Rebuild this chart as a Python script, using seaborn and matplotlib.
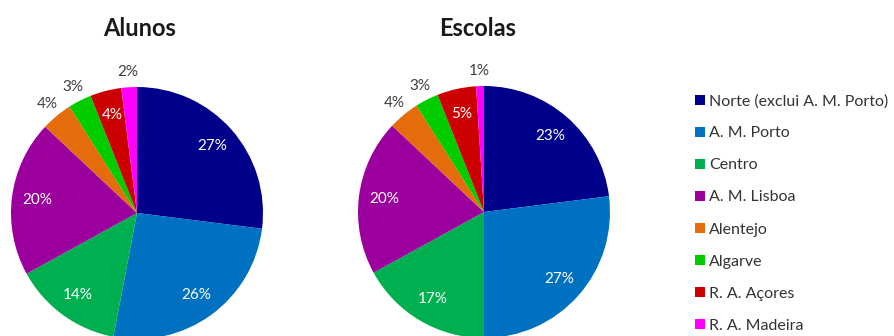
import numpy as np
import matplotlib
matplotlib.use("Agg")
import matplotlib.pyplot as plt
import seaborn as sns
from matplotlib.patches import Patch

categories = ["Norte (exclui A. M. Porto)", "A. M. Porto", "Centro", "A. M. Lisboa",
              "Alentejo", "Algarve", "R. A. Açores", "R. A. Madeira"]
alunos = [27, 26, 14, 20, 4, 3, 4, 2]
escolas = [23, 27, 17, 20, 4, 3, 5, 1]
titles = ["Alunos", "Escolas"]
colors = ["#00008B", "#0070C0", "#00B050", "#9B009F",
          "#E46C0A", "#00CC00", "#CC0000", "#FF00FF"]
outside_alunos = [False, False, False, False, True, True, False, True]
outside_escolas = [False, False, False, False, True, True, False, True]

sns.set_theme(style="white")
plt.rcParams['font.family'] = ['Lato', 'DejaVu Sans']
palette = sns.color_palette(colors)

W, H = 895, 336
fig = plt.figure(figsize=(W / 100, H / 100), dpi=100)
fig.patch.set_facecolor("white")

R = 126  # pixels
lim = 1.25

def make_axes(cx, cy):
    half = R * lim
    ax = fig.add_axes([(cx - half) / W, (H - cy - half) / H, 2 * half / W, 2 * half / H])
    ax.set_xlim(-lim, lim)
    ax.set_ylim(-lim, lim)
    ax.axis("off")
    ax.patch.set_alpha(0)
    return ax

for (cx, cy), vals, outside, title, tx in [((137, 213), alunos, outside_alunos, titles[0], 140),
                                             ((484, 212), escolas, outside_escolas, titles[1], 478)]:
    ax = make_axes(cx, cy)
    wedges, _ = ax.pie(vals, colors=palette, startangle=90, counterclock=False,
                       wedgeprops=dict(linewidth=0), radius=1.0, frame=False)
    ax.set_xlim(-lim, lim)
    ax.set_ylim(-lim, lim)
    ax.set_aspect("auto")
    for w, v, out in zip(wedges, vals, outside):
        w.set_clip_on(False)
        ang = np.deg2rad((w.theta1 + w.theta2) / 2)
        d = 1.12 if out else 0.8
        ax.text(d * np.cos(ang), d * np.sin(ang), f"{v}%", ha="center", va="center",
                fontsize=11, color="#404040" if out else "white", clip_on=False)
    fig.text(tx / W, 1 - 28 / H, title, ha="center", va="center",
             fontsize=17, fontweight="bold", color="#1a1a1a")

handles = [Patch(facecolor=c, edgecolor="none") for c in palette]
leg = fig.legend(handles, categories, loc="upper left", bbox_to_anchor=(695 / W, 1 - 94 / H),
                 frameon=False, fontsize=11.5, handlelength=0.6, handleheight=0.6,
                 handletextpad=0.3, labelspacing=1.13, borderaxespad=0, borderpad=0)
for t in leg.get_texts():
    t.set_color("#333333")

fig.savefig("out.png", dpi=100, facecolor="white")
